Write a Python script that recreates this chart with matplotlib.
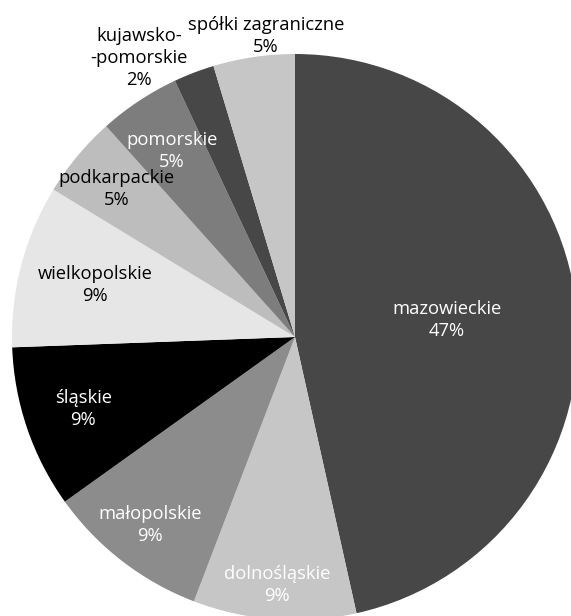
import numpy as np
import matplotlib
matplotlib.use("Agg")
import matplotlib.pyplot as plt

# ---- data ----
regions = ["mazowieckie", "dolnośląskie", "małopolskie", "śląskie", "wielkopolskie",
           "podkarpackie", "pomorskie", "kujawsko-\n-pomorskie", "spółki zagraniczne"]
counts = [20, 4, 4, 4, 4, 2, 2, 1, 2]

# ---- styles ----
colors = ["#474747", "#c6c6c6", "#8c8c8c", "#000000", "#e6e6e6",
          "#bdbdbd", "#7d7d7d", "#474747", "#c6c6c6"]
text_colors = ["white", "white", "white", "white", "black",
               "black", "white", "black", "black"]
label_r = [0.54, 0.88, 0.84, 0.79, 0.73, 0.82, 0.79, 1.13, 1.07]
label_dang = [0, 0, 0, 0, 0, 0, 0, 8.3, -2.9]

W, H = 571, 616
cx_px, cy_px, r_px = 295, 337, 283

plt.rcParams['font.family'] = ['Open Sans', 'DejaVu Sans']
fig = plt.figure(figsize=(W / 100, H / 100), dpi=100)
ax = fig.add_axes([0, 0, 1, 1])

wedges, _ = ax.pie(counts, colors=colors, startangle=90, counterclock=False,
                   radius=1.0, center=(0, 0), wedgeprops=dict(linewidth=0))

total = sum(counts)
for w, name, c, tc, lr, da in zip(wedges, regions, counts, text_colors, label_r, label_dang):
    mid = np.deg2rad((w.theta1 + w.theta2) / 2 + da)
    x, y = lr * np.cos(mid), lr * np.sin(mid)
    pct = int(round(100 * c / total))
    ax.text(x, y, f"{name}\n{pct}%", ha="center", va="center", multialignment="center",
            color=tc, fontsize=13.2, linespacing=1.28)

ax.set_aspect('auto')
ax.set_xlim(-cx_px / r_px, (W - cx_px) / r_px)
ax.set_ylim(-(H - cy_px) / r_px, cy_px / r_px)
ax.axis('off')
fig.savefig("out.png", dpi=100)
